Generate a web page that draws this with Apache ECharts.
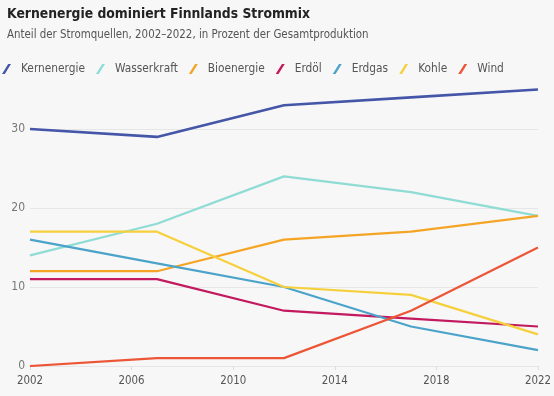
<!DOCTYPE html>
<html>
<head>
<meta charset="utf-8">
<script src="https://cdn.jsdelivr.net/npm/echarts@6/dist/echarts.min.js"></script>
<style>
  html, body { margin: 0; padding: 0; background: #f7f7f7; }
  #chart { width: 554px; height: 396px; }
</style>
</head>
<body>
<div id="chart"></div>
<script>
var years = [2002, 2007, 2012, 2017, 2022];
var seriesNames = ['Kernenergie', 'Wasserkraft', 'Bioenergie', 'Erdöl', 'Erdgas', 'Kohle', 'Wind'];
var kernenergie = [30, 29, 33, 34, 35];
var wasserkraft = [14, 18, 24, 22, 19];
var bioenergie = [12, 12, 16, 17, 19];
var erdoel = [11, 11, 7, 6, 5];
var erdgas = [16, 13, 10, 5, 2];
var kohle = [17, 17, 10, 9, 4];
var wind = [0, 1, 1, 7, 15];
var colors = ['#4556a8', '#8fdcd5', '#f5a526', '#c2195f', '#4ba3c9', '#f6d03c', '#ec5637'];

var font = 'DejaVu Sans Condensed, sans-serif';
var values = [kernenergie, wasserkraft, bioenergie, erdoel, erdgas, kohle, wind];

var dom = document.getElementById('chart');
var myChart = echarts.init(dom);

var series = seriesNames.map(function (name, i) {
  return {
    name: name,
    type: 'line',
    symbol: 'none',
    data: years.map(function (y, j) { return [y, values[i][j]]; }),
    lineStyle: { width: i === 0 ? 2.6 : 2.2, color: colors[i] },
    itemStyle: { color: colors[i] }
  };
});

var option = {
  backgroundColor: '#f7f7f7',
  animation: false,
  title: {
    left: 2,
    top: 2,
    text: 'Kernenergie dominiert Finnlands Strommix',
    subtext: 'Anteil der Stromquellen, 2002–2022, in Prozent der Gesamtproduktion',
    itemGap: 9,
    textStyle: { fontFamily: font, fontSize: 13.8, fontWeight: 'bold', color: '#222' },
    subtextStyle: { fontFamily: font, fontSize: 11.4, color: '#555' }
  },
  legend: {
    left: 2,
    top: 63,
    padding: 0,
    icon: 'path://M0,10 L2.8,10 L9,0 L6.2,0 Z',
    itemWidth: 9,
    itemHeight: 10,
    itemGap: 11,
    textStyle: { fontFamily: font, fontSize: 11.8, color: '#555', padding: [0, 0, 0, 5] },
    data: seriesNames
  },
  grid: { left: 30, right: 14, top: 50, bottom: 30 },
  xAxis: {
    type: 'value',
    min: 2002,
    max: 2022,
    interval: 4,
    axisLine: { show: false },
    axisTick: { show: true, length: 4, lineStyle: { color: '#ddd' } },
    splitLine: { show: false },
    axisLabel: {
      fontFamily: font, fontSize: 11.4, color: '#555', margin: 10,
      formatter: function (v) { return String(v); }
    }
  },
  yAxis: {
    type: 'value',
    min: 0,
    max: 40,
    interval: 10,
    axisLine: { show: false },
    axisTick: { show: false },
    axisLabel: { fontFamily: font, fontSize: 12, color: '#777', margin: 5, showMaxLabel: false },
    splitLine: { show: true, showMaxLine: false, lineStyle: { color: '#e6e6e6', width: 1 } }
  },
  series: series
};

myChart.setOption(option, true);
</script>
</body>
</html>
